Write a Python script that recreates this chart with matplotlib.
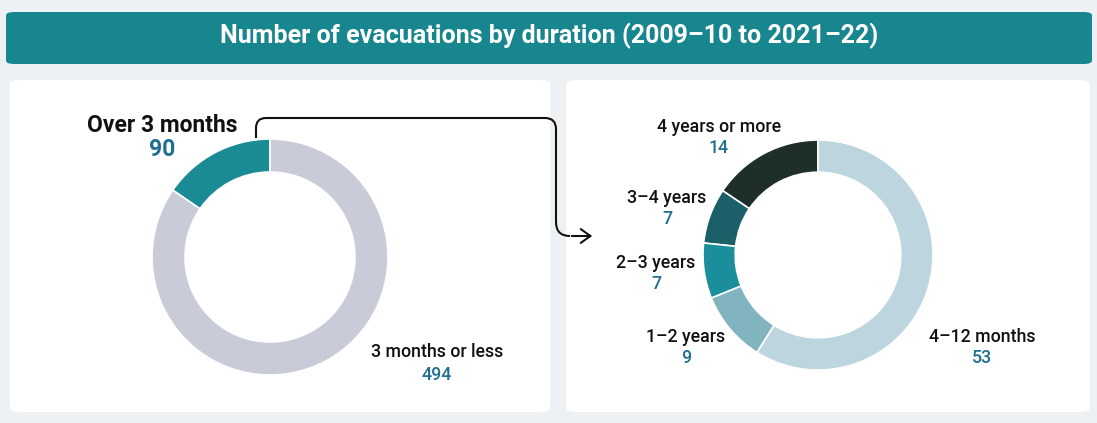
import matplotlib
matplotlib.use("Agg")
import matplotlib.pyplot as plt
from matplotlib.patches import FancyBboxPatch, FancyArrowPatch
from matplotlib.path import Path
import matplotlib.patches as mpatches

title = "Number of evacuations by duration (2009–10 to 2021–22)"
left_labels = ["Over 3 months", "3 months or less"]
left_values = [90, 494]
left_colors = ["#1a8a95", "#c9ccd8"]

right_labels = ["4 years or more", "3–4 years", "2–3 years", "1–2 years", "4–12 months"]
right_values = [14, 7, 7, 9, 53]
right_colors = ["#1e2e2b", "#1b5f68", "#1b8e9b", "#82b4bf", "#bcd5de"]

W, H = 1097, 423
plt.rcParams['font.family'] = ['Roboto', 'DejaVu Sans']
fig = plt.figure(figsize=(W / 100, H / 100), dpi=100)
fig.patch.set_facecolor("#edf1f4")

def fx(x):
    return x / W

def fy(y):
    return 1 - y / H

# header
hdr = FancyBboxPatch((fx(6), fy(64)), fx(1086), 52 / H,
                     boxstyle="round,pad=0,rounding_size=0.008",
                     transform=fig.transFigure, facecolor="#18868f",
                     edgecolor="none", zorder=0)
fig.patches.append(hdr)
fig.text(fx(549), fy(36), title, color="white", fontsize=18,
         fontweight="bold", ha="center", va="center")

# panels
for x0, x1 in [(10, 550), (566, 1090)]:
    p = FancyBboxPatch((fx(x0), fy(412)), fx(x1 - x0), (412 - 80) / H,
                       boxstyle="round,pad=0,rounding_size=0.01",
                       transform=fig.transFigure, facecolor="white",
                       edgecolor="none", zorder=0)
    fig.patches.append(p)

num_color = "#1e6f92"

def donut(cx, cy, r, values, colors):
    ax = fig.add_axes([fx(cx - r), fy(cy + r), 2 * r / W, 2 * r / H])
    ax.set_zorder(5)
    ax.pie(values, colors=colors, startangle=90, counterclock=True,
           radius=1, wedgeprops=dict(width=0.28, edgecolor="white", linewidth=1.2))
    ax.set_xlim(-1, 1)
    ax.set_ylim(-1, 1)
    ax.set_aspect("equal")
    ax.axis("off")
    return ax

donut(270, 257, 118, left_values, left_colors)
donut(818, 255, 115, right_values, right_colors)

# left labels
fig.text(fx(162), fy(126), left_labels[0], fontsize=16.5, fontweight="bold",
         color="#111111", ha="center", va="center")
fig.text(fx(162), fy(149), str(left_values[0]), fontsize=16.5, fontweight="bold",
         color=num_color, ha="center", va="center")
fig.text(fx(437), fy(352), left_labels[1], fontsize=12.8, fontweight="medium",
         color="#111111", ha="center", va="center")
fig.text(fx(437), fy(375), str(left_values[1]), fontsize=12.8, fontweight="medium",
         color=num_color, ha="center", va="center")

# right labels
rpos = [(719, 127), (667, 198), (656, 263), (686, 337), (982, 337)]
for lab, val, (x, y) in zip(right_labels, right_values, rpos):
    fig.text(fx(x), fy(y), lab, fontsize=12.8, fontweight="medium",
             color="#111111", ha="center", va="center")
    fig.text(fx(x), fy(y + 21), str(val), fontsize=12.8, fontweight="medium",
             color=num_color, ha="center", va="center")

# connector
codes = [Path.MOVETO, Path.LINETO, Path.CURVE3, Path.CURVE3,
         Path.LINETO, Path.CURVE3, Path.CURVE3,
         Path.LINETO, Path.CURVE3, Path.CURVE3]
verts = [(fx(256), fy(138)), (fx(256), fy(128)), (fx(256), fy(118)), (fx(266), fy(118)),
         (fx(545), fy(118)), (fx(556), fy(118)), (fx(556), fy(129)),
         (fx(556), fy(222)), (fx(556), fy(236)), (fx(570), fy(236))]
path = Path(verts, codes)
fig.patches.append(mpatches.PathPatch(path, transform=fig.transFigure,
                                      facecolor="none", edgecolor="#111111",
                                      linewidth=1.5, zorder=6))
arr = FancyArrowPatch((fx(569), fy(236)), (fx(595), fy(236)),
                      transform=fig.transFigure, arrowstyle="->,head_length=7,head_width=5",
                      color="#111111", linewidth=1.5, zorder=6)
fig.patches.append(arr)

fig.savefig("out.png", dpi=100, facecolor=fig.get_facecolor())
